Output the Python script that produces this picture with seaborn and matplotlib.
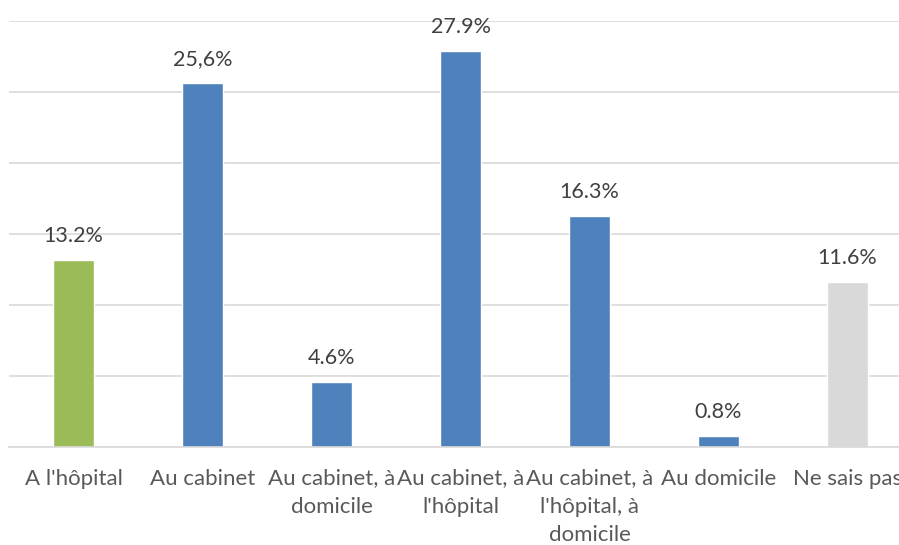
import matplotlib
matplotlib.use("Agg")
import matplotlib.pyplot as plt
import seaborn as sns
import pandas as pd

categories = ["A l'hôpital", "Au cabinet", "Au cabinet, à\ndomicile", "Au cabinet, à\nl'hôpital",
              "Au cabinet, à\nl'hôpital, à\ndomicile", "Au domicile", "Ne sais pas"]
values = [13.2, 25.6, 4.6, 27.9, 16.3, 0.8, 11.6]
value_labels = ["13.2%", "25,6%", "4.6%", "27.9%", "16.3%", "0.8%", "11.6%"]
colors = ["#9BBB59", "#4F81BD", "#4F81BD", "#4F81BD", "#4F81BD", "#4F81BD", "#D9D9D9"]

sns.set_theme(style="white")
plt.rcParams['font.family'] = ['Lato', 'DejaVu Sans']

df = pd.DataFrame({"cat": categories, "val": values})

fig = plt.figure(figsize=(8.99, 5.45), dpi=100)
ax = fig.add_axes([9/899, 1-447/545, 903/899, (447-21)/545])
sns.barplot(data=df, x="cat", y="val", hue="cat", palette=colors, width=0.32,
            legend=False, ax=ax, saturation=1)

ax.set_ylim(0, 30)
ax.set_xlim(-0.5, 6.5)
ax.set_yticks([0, 5, 10, 15, 20, 25, 30])
ax.yaxis.grid(True, color="#D9D9D9", linewidth=1.2)
ax.set_axisbelow(True)
for s in ["top", "right", "left"]:
    ax.spines[s].set_visible(False)
ax.spines["bottom"].set_color("#D9D9D9")
ax.spines["bottom"].set_linewidth(1.2)
ax.set_yticklabels([])
ax.tick_params(axis="y", length=0)
ax.tick_params(axis="x", length=0, pad=15.5, labelsize=16, labelcolor="#595959")
ax.set_xlabel("")
ax.set_ylabel("")
for lbl in ax.get_xticklabels():
    lbl.set_horizontalalignment("center")
    lbl.set_multialignment("center")
    lbl.set_linespacing(1.5)

for i, (v, t) in enumerate(zip(values, value_labels)):
    ax.annotate(t, (i, v), xytext=(0, 10), textcoords="offset points",
                ha="center", va="bottom", fontsize=15.5, color="#404040")

fig.savefig("out.png", dpi=100)
